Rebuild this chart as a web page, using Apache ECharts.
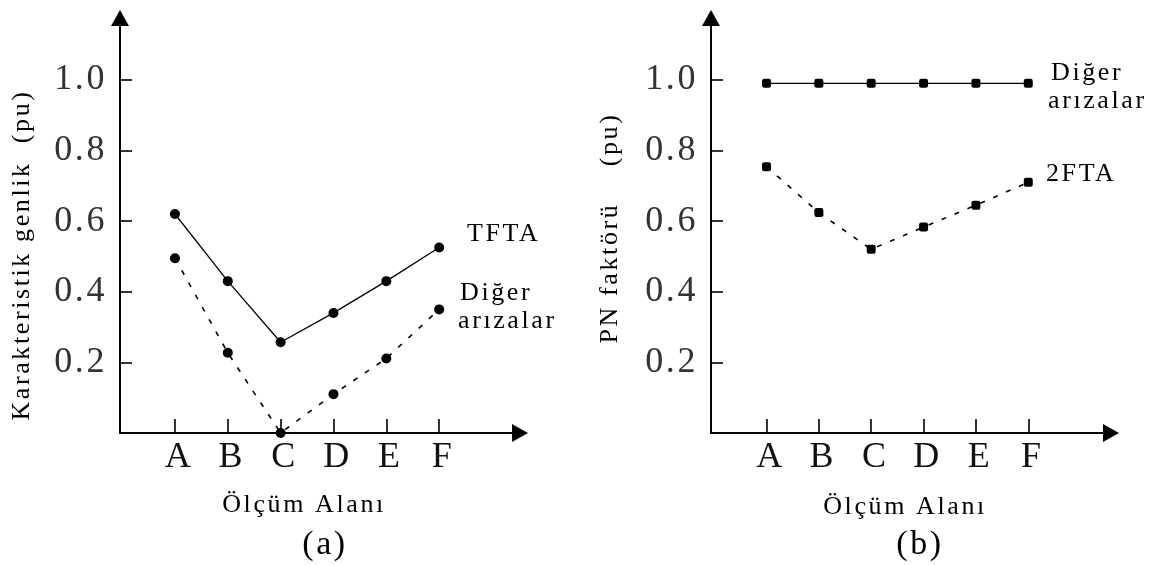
<!DOCTYPE html>
<html>
<head>
<meta charset="utf-8">
<script src="https://cdn.jsdelivr.net/npm/echarts@6/dist/echarts.min.js"></script>
<style>
  html, body { margin: 0; padding: 0; background: #fff; }
  #chart { width: 1150px; height: 565px; }
</style>
</head>
<body>
<div id="chart"></div>
<script>
// Measurement areas
const categories = ['A', 'B', 'C', 'D', 'E', 'F'];

// (a) characteristic amplitude, pu
const tftaAmplitude  = [0.62, 0.43, 0.257, 0.34, 0.43, 0.525];
const otherAmplitude = [0.495, 0.227, 0.0, 0.11, 0.211, 0.35];

// (b) PN factor, pu
const otherPnFactor = [0.99, 0.99, 0.99, 0.99, 0.99, 0.99];
const twoFtaPnFactor = [0.754, 0.624, 0.52, 0.583, 0.645, 0.71];

// y tick labels shown on both panels
const yTickValues = [0.2, 0.4, 0.6, 0.8, 1.0];
const xTickValues = categories.map((c, i) => i);

const SERIF = "'Liberation Serif', serif";
const NAME_SIZE = 26;

// Slightly wider tracking for the 26px axis names and series annotations.
(function () {
  const proto = CanvasRenderingContext2D.prototype;
  if (!('letterSpacing' in proto)) return;
  const fillText = proto.fillText;
  proto.fillText = function () {
    if (this.font.indexOf(NAME_SIZE + 'px') !== -1) {
      const prev = this.letterSpacing;
      this.letterSpacing = '2.6px';
      fillText.apply(this, arguments);
      this.letterSpacing = prev;
      return;
    }
    return fillText.apply(this, arguments);
  };
})();

function toPoints(values) {
  return values.map((v, i) => [i, v]);
}

function makeXAxis(gridIndex, min, max) {
  return {
    type: 'value',
    gridIndex: gridIndex,
    min: min,
    max: max,
    splitLine: { show: false },
    axisLine: {
      show: true,
      onZero: false,
      symbol: ['none', 'triangle'],
      symbolSize: [18, 16],
      lineStyle: { color: '#000', width: 2 }
    },
    axisTick: {
      show: true,
      inside: true,
      length: 14,
      customValues: xTickValues,
      lineStyle: { color: '#000', width: 1.6 }
    },
    axisLabel: {
      show: true,
      customValues: xTickValues,
      formatter: v => categories[Math.round(v)] || '',
      margin: 7,
      padding: [0, 0, 0, 8],
      color: '#111',
      fontSize: 36,
      fontFamily: SERIF
    }
  };
}

function makeYAxis(gridIndex) {
  return {
    type: 'value',
    gridIndex: gridIndex,
    min: 0,
    max: 1.175,
    splitLine: { show: false },
    axisLine: {
      show: true,
      onZero: false,
      symbol: ['none', 'triangle'],
      symbolSize: [18, 16],
      lineStyle: { color: '#000', width: 2 }
    },
    axisTick: {
      show: true,
      inside: true,
      length: 12,
      customValues: yTickValues,
      lineStyle: { color: '#000', width: 1.6 }
    },
    axisLabel: {
      show: true,
      customValues: yTickValues,
      formatter: v => v.toFixed(1),
      margin: 13,
      color: '#333',
      fontSize: 36,
      fontFamily: SERIF
    }
  };
}

function lineSeries(name, values, axisIndex, dashed, symbol, size) {
  return {
    name: name,
    type: 'line',
    xAxisIndex: axisIndex,
    yAxisIndex: axisIndex,
    data: toPoints(values),
    clip: false,
    symbol: symbol,
    symbolSize: size,
    showSymbol: true,
    itemStyle: { color: '#000' },
    lineStyle: dashed
      ? { color: '#000', width: 1.6, type: [5, 9] }
      : { color: '#000', width: 1.3, type: 'solid' },
    emphasis: { disabled: true },
    z: 3
  };
}

function textEl(text, x, y, size, align, opts) {
  return Object.assign({
    type: 'text',
    x: x,
    y: y,
    silent: true,
    style: {
      text: text,
      fontSize: size,
      fontFamily: SERIF,
      fill: '#000',
      textAlign: align,
      textVerticalAlign: 'middle'
    }
  }, opts || {});
}

const chart = echarts.init(document.getElementById('chart'), null, { renderer: 'canvas' });

chart.setOption({
  animation: false,
  backgroundColor: '#fff',
  grid: [
    { left: 120, top: 18, width: 400, height: 415 },
    { left: 711, top: 18, width: 400, height: 415 }
  ],
  xAxis: [
    makeXAxis(0, -1.04, 6.53),
    makeXAxis(1, -1.06, 6.58)
  ],
  yAxis: [
    makeYAxis(0),
    makeYAxis(1)
  ],
  series: [
    lineSeries('TFTA', tftaAmplitude, 0, false, 'circle', 10),
    lineSeries('Diğer arızalar', otherAmplitude, 0, true, 'circle', 10),
    lineSeries('Diğer arızalar', otherPnFactor, 1, false, 'roundRect', 9),
    lineSeries('2FTA', twoFtaPnFactor, 1, true, 'roundRect', 9)
  ],
  graphic: [
    // axis names, panel (a)
    textEl('Karakteristik genlik  (pu)', 22, 255, NAME_SIZE, 'center', { rotation: Math.PI / 2 }),
    textEl('Ölçüm Alanı', 304, 505, NAME_SIZE, 'center'),
    textEl('(a)', 325, 545, 34, 'center'),
    // axis names, panel (b)
    textEl('PN faktörü    (pu)', 610, 228, NAME_SIZE, 'center', { rotation: Math.PI / 2 }),
    textEl('Ölçüm Alanı', 905, 507, NAME_SIZE, 'center'),
    textEl('(b)', 920, 545, 34, 'center'),
    // series annotations
    textEl('TFTA', 467, 234, NAME_SIZE, 'left'),
    textEl('Diğer', 460, 293, NAME_SIZE, 'left'),
    textEl('arızalar', 458, 321, NAME_SIZE, 'left'),
    textEl('Diğer', 1051, 73, NAME_SIZE, 'left'),
    textEl('arızalar', 1048, 101, NAME_SIZE, 'left'),
    textEl('2FTA', 1046, 174, NAME_SIZE, 'left')
  ]
});
</script>
</body>
</html>
